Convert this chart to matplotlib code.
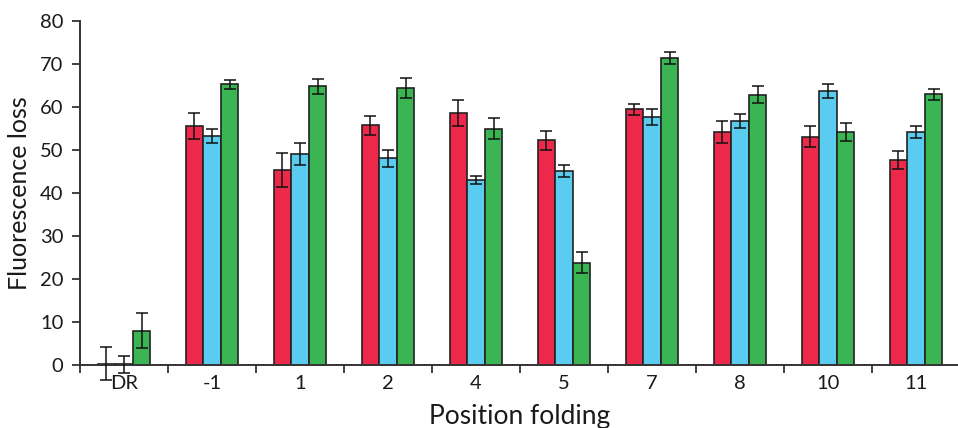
import matplotlib
matplotlib.use("Agg")
import matplotlib.pyplot as plt
import numpy as np

plt.rcParams['font.family'] = ['Lato', 'DejaVu Sans']

positions = ["DR", "-1", "1", "2", "4", "5", "7", "8", "10", "11"]

red_vals = [0.3, 55.6, 45.4, 55.8, 58.6, 52.3, 59.5, 54.2, 53.1, 47.7]
red_err = [3.9, 3.1, 4.0, 2.2, 3.1, 2.2, 1.3, 2.5, 2.5, 2.1]

blue_vals = [0.2, 53.3, 49.1, 48.1, 43.1, 45.2, 57.7, 56.8, 63.8, 54.2]
blue_err = [2.0, 1.7, 2.6, 2.0, 0.9, 1.4, 1.8, 1.6, 1.6, 1.4]

green_vals = [8.0, 65.3, 64.8, 64.5, 55.0, 23.8, 71.3, 62.9, 54.2, 63.0]
green_err = [4.0, 1.0, 1.8, 2.3, 2.5, 2.5, 1.4, 1.9, 2.1, 1.3]

series = [
    (red_vals, red_err, "#EC284B"),
    (blue_vals, blue_err, "#5BCBEF"),
    (green_vals, green_err, "#3BB554"),
]

fig = plt.figure(figsize=(9.58, 4.28), dpi=100)
ax = fig.add_axes([80 / 958, 1 - 365 / 428, 880 / 958, 344 / 428])

x = np.arange(len(positions))
width = 0.2
offsets = [-width, 0.0, width]

for (vals, errs, color), off in zip(series, offsets):
    ax.bar(x + off, vals, width, color=color, edgecolor="#222222",
           linewidth=1.2, zorder=2)
    ax.errorbar(x + off, vals, yerr=errs, fmt="none", ecolor="#111111",
                elinewidth=1.1, capsize=4.5, capthick=1.1, zorder=3,
                clip_on=False)

ax.set_xlim(-0.5, len(positions) - 0.5)
ax.set_ylim(0, 80)
ax.set_yticks(np.arange(0, 81, 10))

ax.set_xticks(x)
ax.set_xticklabels(positions)
ax.set_xticks(np.arange(-0.5, len(positions), 1.0), minor=True)
ax.tick_params(axis="x", which="major", length=0, pad=7, labelsize=14.5,
               colors="#1a1a1a")
ax.tick_params(axis="x", which="minor", length=6, width=1.3,
               direction="out", color="#333333")
ax.tick_params(axis="y", length=6, width=1.3, pad=6, labelsize=14.5,
               color="#333333", labelcolor="#1a1a1a")

for side in ("top", "right"):
    ax.spines[side].set_visible(False)
for side in ("left", "bottom"):
    ax.spines[side].set_color("#333333")
    ax.spines[side].set_linewidth(1.4)

ax.set_ylabel("Fluorescence loss", fontsize=18, color="#1a1a1a", labelpad=6)
ax.set_xlabel("Position folding", fontsize=19, color="#1a1a1a", labelpad=9)

fig.savefig("out.png", dpi=100)
